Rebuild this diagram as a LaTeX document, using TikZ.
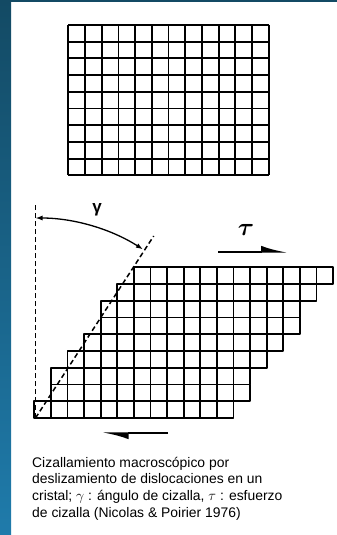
\documentclass[tikz,border=0pt]{standalone}
\usepackage{fontspec}
\setmainfont{Liberation Sans}
\usetikzlibrary{arrows.meta}
\definecolor{slidedark}{HTML}{134A64}
\definecolor{slidelight}{HTML}{1F7BAB}

\begin{document}
\begin{tikzpicture}[x=1pt, y=-1pt,
        cell/.style={draw, line width=1.8pt, line join=round},
        guide/.style={line width=1.5pt, dash pattern=on 5pt off 3pt},
        angle/.style={line width=1.3pt, {Latex[length=7pt,width=5pt]}-{Latex[length=7pt,width=5pt]}},
        shear/.style={line width=1.8pt, -{Latex[harpoon, length=22pt, width=12pt]}},
        caption/.style={anchor=base west, inner sep=0pt, font=\fontsize{13.9}{16.7}\selectfont}
    ]
        \useasboundingbox (0,0) rectangle (337,535);

        % Slide border
        \shade[top color=slidedark, bottom color=slidelight] (0,0) rectangle (11,535);
        \fill[slidedark] (0,0) rectangle (337,2);

        % Undeformed crystal
        \foreach \i in {0,...,12} {
            \draw[cell] ({68.3+\i*16.7},25) -- ++(0,150.3);
        }
        \foreach \j in {0,...,9} {
            \draw[cell] (68.3,{25+\j*16.7}) -- ++(200.4,0);
        }

        % Sheared crystal
        \coordinate (pivot) at (35.5,418);
        \foreach \o [count=\r from 0] in {0,1,1,2,3,4,4,5,6} {
            \foreach \k in {0,...,11} {
                \draw[cell] ({34.3+(\o+\k)*16.6},{418-\r*16.75}) rectangle ++(16.6,-16.75);
            }
        }

        % Paths: Reference lines
        \draw[guide] (pivot) -- ++(0,-213) coordinate (vtop);
        \draw[guide] (pivot) -- ++(-57:217) coordinate (stop);

        % Paths: Shear angle
        \path (pivot) ++(0,-200) coordinate (a0);
        \draw[angle] (a0) arc[start angle=-90, end angle=-57.5, radius=200];
        \node[font=\fontsize{17}{17}\selectfont\bfseries] (gam) at (97,210) {γ};

        % Paths: Shear stress
        \node[font=\fontsize{42}{42}\selectfont\boldmath] (tau) at (246,230) {$\tau$};
        \coordinate (t0) at (218,251.7);
        \coordinate (t1) at (288,251.7);
        \draw[shear] (t0) -- (t1);
        \coordinate (b0) at (168,433.3);
        \coordinate (b1) at (101.7,433.3);
        \draw[shear] (b0) -- (b1);

        % Caption
        \node[caption] (cap1) at (32,467) {Cizallamiento macroscópico por};
        \node[caption] (cap2) at (32,483.7) {deslizamiento de dislocaciones en un};
        \node[caption] (cap3) at (32,500.4) {cristal; $\gamma$ : ángulo de cizalla, $\tau$ : esfuerzo};
        \node[caption] (cap4) at (32,517.1) {de cizalla (Nicolas \& Poirier 1976)};
    \end{tikzpicture}
\end{document}
